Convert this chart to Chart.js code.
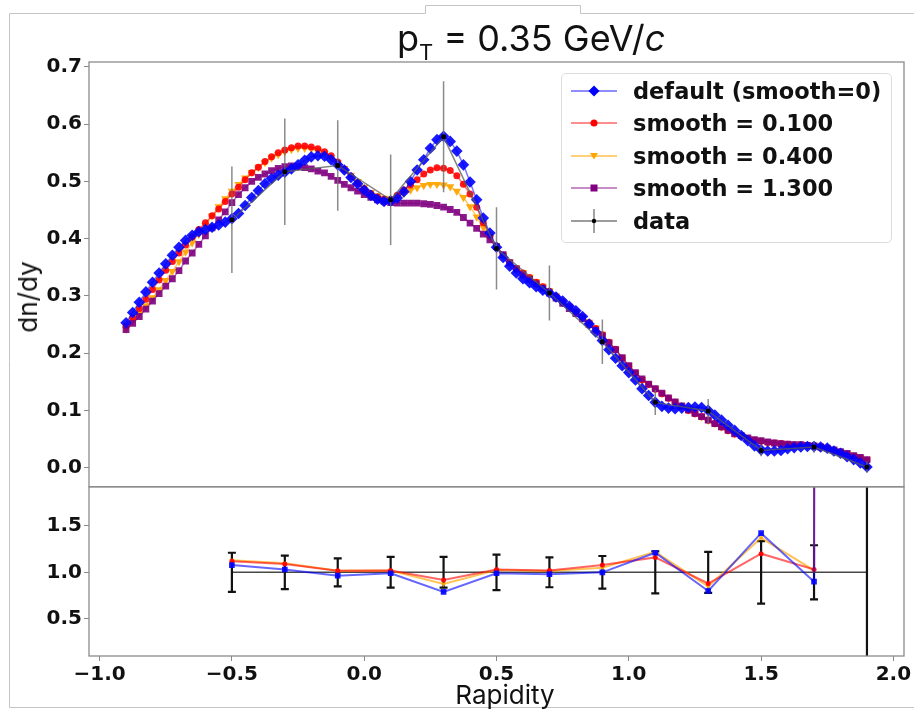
<!DOCTYPE html>
<html>
<head>
<meta charset="utf-8">
<script src="https://cdn.jsdelivr.net/npm/chart.js@4.4.1/dist/chart.umd.min.js"></script>
<style>
  html, body { margin: 0; padding: 0; background: #fff; }
  #wrap { position: relative; width: 914px; height: 716px; overflow: hidden; }
  #chart { position: absolute; left: 0; top: 0; }
  .txt { position: absolute; font-family: Inter, 'Noto Sans', sans-serif; color: #111; white-space: nowrap; line-height: 1; }
  #title { left: 397px; top: 20px; font-size: 36px; }
  #title sub { font-size: 22px; vertical-align: -9px; line-height: 0; }
  #ylab { left: 28px; top: 297px; font-size: 26px; transform: translate(-50%, -50%) rotate(-90deg); }
  #xlab { left: 505px; top: 682px; font-size: 26px; transform: translateX(-50%); }
  #legend { position: absolute; left: 561px; top: 73px; width: 331px; height: 170px; box-sizing: border-box;
            border: 1px solid #dcdcdc; border-radius: 5px; background: rgba(255,255,255,0.85); }
  .row { position: absolute; left: 7px; height: 24px; line-height: 24px;
         font-family: 'DejaVu Sans', sans-serif; font-weight: bold; font-size: 22.5px; color: #111; white-space: nowrap; }
  .row svg { position: absolute; left: 0; top: 0; }
  .row span { position: absolute; left: 64px; top: 0; }
</style>
</head>
<body>
<div id="wrap">
  <canvas id="chart" width="914" height="716"></canvas>
  <div id="title" class="txt">p<sub>T</sub> = 0.35 GeV/<i>c</i></div>
  <div id="ylab" class="txt">dn/dy</div>
  <div id="xlab" class="txt">Rapidity</div>
  <div id="legend">
    <div class="row" style="top:4.7px">
      <svg width="50" height="24"><line x1="2" y1="12" x2="48" y2="12" stroke="rgba(0,0,255,0.6)" stroke-width="1.6"/><polygon points="25,6.5 30.5,12 25,17.5 19.5,12" fill="#0000ff"/></svg>
      <span>default (smooth=0)</span></div>
    <div class="row" style="top:37.2px">
      <svg width="50" height="24"><line x1="2" y1="12" x2="48" y2="12" stroke="rgba(255,0,0,0.6)" stroke-width="1.6"/><circle cx="25" cy="12" r="3.5" fill="#ff0000"/></svg>
      <span>smooth = 0.100</span></div>
    <div class="row" style="top:69.7px">
      <svg width="50" height="24"><line x1="2" y1="12" x2="48" y2="12" stroke="rgba(255,165,0,0.7)" stroke-width="1.6"/><polygon points="21,9 29,9 25,15.5" fill="#ffa500"/></svg>
      <span>smooth = 0.400</span></div>
    <div class="row" style="top:102.2px">
      <svg width="50" height="24"><line x1="2" y1="12" x2="48" y2="12" stroke="rgba(128,0,128,0.6)" stroke-width="1.6"/><rect x="21.5" y="8.5" width="7" height="7" fill="#800080"/></svg>
      <span>smooth = 1.300</span></div>
    <div class="row" style="top:134.7px">
      <svg width="50" height="24"><line x1="2" y1="12" x2="48" y2="12" stroke="rgba(90,90,90,0.8)" stroke-width="1.4"/><line x1="25" y1="0" x2="25" y2="24" stroke="rgba(90,90,90,0.8)" stroke-width="1.4"/><circle cx="25" cy="12" r="2.2" fill="#000"/></svg>
      <span>data</span></div>
  </div>
</div>
<script>
// model grid in rapidity (-0.9 .. 1.9, step 0.025)
const rapidity = Array.from({length: 113}, (_, i) => Math.round((-0.9 + i * 0.025) * 1000) / 1000);

const defaultDndy = [
  0.253,0.271,0.289,0.307,0.324,0.340,0.356,0.371,0.385,0.397,
  0.406,0.412,0.416,0.420,0.424,0.429,0.435,0.444,0.458,0.472,
  0.484,0.496,0.505,0.511,0.516,0.522,0.529,0.537,0.543,0.545,
  0.544,0.538,0.529,0.520,0.507,0.496,0.485,0.476,0.469,0.465,
  0.466,0.471,0.482,0.500,0.520,0.538,0.558,0.573,0.579,0.570,
  0.553,0.529,0.499,0.468,0.436,0.410,0.385,0.367,0.352,0.340,
  0.330,0.323,0.316,0.310,0.305,0.298,0.291,0.282,0.274,0.264,
  0.251,0.237,0.222,0.206,0.191,0.178,0.166,0.153,0.138,0.126,
  0.114,0.107,0.104,0.103,0.104,0.105,0.106,0.105,0.100,0.092,
  0.083,0.074,0.065,0.056,0.047,0.038,0.031,0.029,0.029,0.030,
  0.033,0.035,0.036,0.037,0.037,0.036,0.034,0.029,0.025,0.019,
  0.014,0.008,0.001
];
const smooth010 = [
  0.248,0.262,0.278,0.294,0.311,0.328,0.345,0.360,0.375,0.389,
  0.403,0.416,0.428,0.440,0.452,0.465,0.478,0.490,0.503,0.515,
  0.525,0.535,0.543,0.550,0.555,0.559,0.562,0.562,0.560,0.557,
  0.552,0.545,0.534,0.521,0.508,0.497,0.487,0.479,0.473,0.469,
  0.468,0.476,0.485,0.494,0.503,0.513,0.520,0.524,0.523,0.519,
  0.510,0.495,0.478,0.455,0.428,0.405,0.387,0.371,0.358,0.348,
  0.340,0.332,0.324,0.316,0.308,0.299,0.290,0.281,0.272,0.263,
  0.253,0.243,0.232,0.219,0.207,0.191,0.177,0.165,0.153,0.145,
  0.137,0.129,0.121,0.114,0.107,0.100,0.094,0.089,0.083,0.077,
  0.071,0.065,0.059,0.055,0.051,0.048,0.046,0.044,0.043,0.042,
  0.041,0.040,0.040,0.039,0.038,0.036,0.033,0.030,0.027,0.024,
  0.020,0.017,0.013
];
const smooth040 = [
  0.242,0.255,0.269,0.283,0.297,0.311,0.327,0.343,0.360,0.377,
  0.393,0.408,0.423,0.440,0.456,0.470,0.483,0.495,0.506,0.516,
  0.525,0.533,0.541,0.547,0.552,0.556,0.558,0.558,0.557,0.554,
  0.549,0.542,0.533,0.523,0.511,0.500,0.490,0.481,0.475,0.471,
  0.470,0.473,0.479,0.485,0.489,0.493,0.495,0.495,0.494,0.491,
  0.483,0.472,0.456,0.438,0.420,0.402,0.387,0.372,0.359,0.349,
  0.341,0.333,0.325,0.317,0.309,0.300,0.291,0.282,0.273,0.264,
  0.254,0.244,0.233,0.219,0.207,0.192,0.178,0.166,0.154,0.146,
  0.138,0.130,0.122,0.115,0.108,0.101,0.095,0.089,0.083,0.077,
  0.071,0.065,0.059,0.055,0.051,0.048,0.046,0.044,0.043,0.042,
  0.041,0.040,0.040,0.039,0.038,0.036,0.034,0.031,0.028,0.025,
  0.021,0.018,0.014
];
const smooth130 = [
  0.241,0.252,0.264,0.277,0.291,0.304,0.317,0.330,0.344,0.361,
  0.375,0.390,0.405,0.419,0.433,0.447,0.463,0.477,0.489,0.500,
  0.507,0.513,0.519,0.523,0.526,0.527,0.526,0.524,0.522,0.518,
  0.515,0.509,0.502,0.495,0.489,0.483,0.477,0.472,0.468,0.465,
  0.463,0.462,0.462,0.462,0.462,0.461,0.460,0.458,0.455,0.451,
  0.446,0.437,0.427,0.418,0.408,0.398,0.386,0.372,0.358,0.347,
  0.337,0.329,0.321,0.313,0.305,0.296,0.287,0.278,0.269,0.260,
  0.250,0.240,0.230,0.218,0.206,0.192,0.178,0.166,0.155,0.146,
  0.138,0.130,0.122,0.115,0.108,0.101,0.095,0.089,0.083,0.077,
  0.071,0.065,0.059,0.056,0.052,0.049,0.047,0.045,0.043,0.042,
  0.041,0.040,0.040,0.039,0.038,0.036,0.034,0.031,0.028,0.025,
  0.021,0.018,0.014
];

// measured points
const dataRapidity = [-0.5, -0.3, -0.1, 0.1, 0.3, 0.5, 0.7, 0.9, 1.1, 1.3, 1.5, 1.7, 1.9];
const dataDndy = [0.433, 0.517, 0.528, 0.468, 0.578, 0.383, 0.305, 0.220, 0.114, 0.099, 0.030, 0.036, 0.001];
const dataErr  = [0.093, 0.093, 0.079, 0.079, 0.097, 0.072, 0.048, 0.039, 0.022, 0.021, 0.010, 0.010, 0.010];

// ratio model / data (last point is far off scale)
const ratioDefault   = [1.078, 1.03, 0.964, 0.99, 0.79, 0.99, 0.98, 1.0, 1.21, 0.80, 1.42, 0.90, 400];
const ratioSmooth010 = [1.12, 1.09, 1.017, 1.02, 0.918, 1.03, 1.02, 1.078, 1.16, 0.88, 1.20, 1.03, 400];
const ratioSmooth040 = [1.13, 1.096, 1.017, 1.02, 0.876, 1.025, 1.015, 1.05, 1.22, 0.847, 1.37, 1.02, 400];
const ratioData      = [1, 1, 1, 1, 1, 1, 1, 1, 1, 1, 1, 1, 1];
const ratioErr       = [0.21, 0.18, 0.15, 0.165, 0.165, 0.19, 0.16, 0.175, 0.225, 0.22, 0.335, 0.29, 10];

const xTicks = [-1.0, -0.5, 0.0, 0.5, 1.0, 1.5, 2.0];
const yTicksTop = [0.0, 0.1, 0.2, 0.3, 0.4, 0.5, 0.6, 0.7];
const yTicksRatio = [0.5, 1.0, 1.5];

function pts(xs, ys) { return xs.map((x, i) => ({x: x, y: ys[i]})); }
function fmt(v) { return (v < 0 ? '\u2212' : '') + Math.abs(v).toFixed(1); }

const tickFont = {family: 'DejaVu Sans', weight: 'bold', size: 20};

function axisBase(ticks) {
  return {
    type: 'linear',
    afterBuildTicks: s => { s.ticks = ticks.map(v => ({value: v})); },
    ticks: {font: tickFont, color: '#111', padding: 2, callback: v => fmt(v)},
    grid: {drawOnChartArea: false, drawTicks: true, tickLength: 5, tickColor: '#888', lineWidth: 1},
    border: {display: false}
  };
}

// frame around the whole picture and the two panel boxes
const framePlugin = {
  id: 'frame',
  beforeDraw(chart) {
    const ctx = chart.ctx;
    ctx.save();
    ctx.fillStyle = '#fff';
    ctx.fillRect(0, 0, chart.width, chart.height);
    ctx.strokeStyle = '#c4c4c4';
    ctx.lineWidth = 1;
    ctx.beginPath();
    ctx.moveTo(914, 13.5); ctx.lineTo(580.5, 13.5); ctx.lineTo(580.5, 5.5); ctx.lineTo(425.5, 5.5);
    ctx.lineTo(425.5, 13.5); ctx.lineTo(9.5, 13.5); ctx.lineTo(9.5, 707.5); ctx.lineTo(914, 707.5);
    ctx.stroke();
    ctx.restore();
  },
  afterDatasetsDraw(chart) {
    const {ctx, scales: {x, yTop, yRatio}} = chart;
    ctx.save();
    ctx.strokeStyle = '#8c8c8c';
    ctx.lineWidth = 1.3;
    [yTop, yRatio].forEach(s => { ctx.strokeRect(x.left, s.top, x.right - x.left, s.bottom - s.top); });
    ctx.restore();
  }
};

// clip every dataset to its own panel and draw error bars
const panelPlugin = {
  id: 'panels',
  beforeDatasetDraw(chart, args) {
    const {ctx, scales: {x, yTop}} = chart;
    const meta = chart.getDatasetMeta(args.index);
    const ys = chart.scales[meta.yAxisID];
    if (args.index === 0) {
      ctx.save();
      ctx.beginPath();
      ctx.rect(x.left, yTop.top, x.right - x.left, yTop.bottom - yTop.top);
      ctx.clip();
      ctx.strokeStyle = 'rgba(110,110,110,0.8)';
      ctx.lineWidth = 1.5;
      dataRapidity.forEach((xv, i) => {
        const px = x.getPixelForValue(xv);
        ctx.beginPath();
        ctx.moveTo(px, yTop.getPixelForValue(dataDndy[i] - dataErr[i]));
        ctx.lineTo(px, yTop.getPixelForValue(dataDndy[i] + dataErr[i]));
        ctx.stroke();
      });
      ctx.restore();
    }
    ctx.save();
    ctx.beginPath();
    ctx.rect(x.left, ys.top, x.right - x.left, ys.bottom - ys.top);
    ctx.clip();
  },
  afterDatasetDraw(chart, args) {
    const {ctx, scales: {x, yRatio}} = chart;
    ctx.restore();
    if (args.index === 8) {
      ctx.save();
      ctx.beginPath();
      ctx.rect(x.left, yRatio.top, x.right - x.left, yRatio.bottom - yRatio.top);
      ctx.clip();
      ctx.strokeStyle = '#111';
      ctx.lineWidth = 2.2;
      dataRapidity.forEach((xv, i) => {
        const px = x.getPixelForValue(xv);
        const lo = yRatio.getPixelForValue(ratioData[i] - ratioErr[i]);
        const hi = yRatio.getPixelForValue(ratioData[i] + ratioErr[i]);
        ctx.beginPath();
        ctx.moveTo(px, lo); ctx.lineTo(px, hi);
        ctx.moveTo(px - 4, lo); ctx.lineTo(px + 4, lo);
        ctx.moveTo(px - 4, hi); ctx.lineTo(px + 4, hi);
        ctx.stroke();
      });
      ctx.restore();
    }
  }
};

function modelSet(ys, line, fill, style, radius, axis, xs) {
  return {
    data: pts(xs || rapidity, ys),
    yAxisID: axis || 'yTop',
    borderColor: line,
    borderWidth: 1.5,
    pointStyle: style,
    pointRadius: radius,
    pointBackgroundColor: fill,
    pointBorderWidth: 0,
    pointRotation: style === 'triangle' ? 180 : 0,
    tension: 0,
    fill: false
  };
}

new Chart(document.getElementById('chart'), {
  type: 'line',
  data: {
    datasets: [
      // 0: data (top panel)
      {data: pts(dataRapidity, dataDndy), yAxisID: 'yTop', borderColor: 'rgba(90,90,90,0.75)', borderWidth: 1.5,
       pointRadius: 2.5, pointBackgroundColor: '#000', pointBorderWidth: 0, fill: false},
      modelSet(defaultDndy, 'rgba(0,0,255,0.55)', 'rgba(0,0,255,0.9)', 'rectRot', 5.8),
      modelSet(smooth130, 'rgba(128,0,128,0.55)', 'rgba(128,0,128,0.9)', 'rect', 4.8),
      modelSet(smooth010, 'rgba(255,0,0,0.55)', 'rgba(255,0,0,0.9)', 'circle', 3.5),
      modelSet(smooth040, 'rgba(255,165,0,0.6)', 'rgba(255,165,0,0.95)', 'triangle', 4.8),
      // 5-8: ratio panel
      Object.assign(modelSet(ratioDefault, 'rgba(0,0,255,0.6)', 'rgba(0,0,255,0.9)', 'rect', 4, 'yRatio', dataRapidity), {borderWidth: 2}),
      Object.assign(modelSet(ratioSmooth010, 'rgba(255,0,0,0.6)', 'rgba(255,0,0,0.9)', 'circle', 2.5, 'yRatio', dataRapidity), {borderWidth: 2}),
      Object.assign(modelSet(ratioSmooth040, 'rgba(255,165,0,0.65)', 'rgba(255,165,0,0.9)', 'triangle', 3, 'yRatio', dataRapidity), {borderWidth: 2}),
      {data: pts(dataRapidity, ratioData), yAxisID: 'yRatio', borderColor: 'rgba(40,40,40,0.85)', borderWidth: 1.5,
       pointRadius: 0, fill: false}
    ]
  },
  options: {
    responsive: false,
    animation: false,
    events: [],
    layout: {padding: {top: 62, right: 10, left: 0, bottom: 0}},
    plugins: {legend: {display: false}, tooltip: {enabled: false}, title: {display: false}},
    scales: {
      x: Object.assign(axisBase(xTicks), {
        min: -1.04, max: 2.04,
        afterFit: s => { s.height = 60; }
      }),
      yRatio: Object.assign(axisBase(yTicksRatio), {
        position: 'left', stack: 'panels', stackWeight: 169.3,
        min: 0.103, max: 1.917,
        afterFit: s => { s.width = 89; }
      }),
      yTop: Object.assign(axisBase(yTicksTop), {
        position: 'left', stack: 'panels', stackWeight: 425,
        min: -0.0335, max: 0.7087,
        afterFit: s => { s.width = 89; }
      })
    }
  },
  plugins: [framePlugin, panelPlugin]
});
</script>
</body>
</html>
